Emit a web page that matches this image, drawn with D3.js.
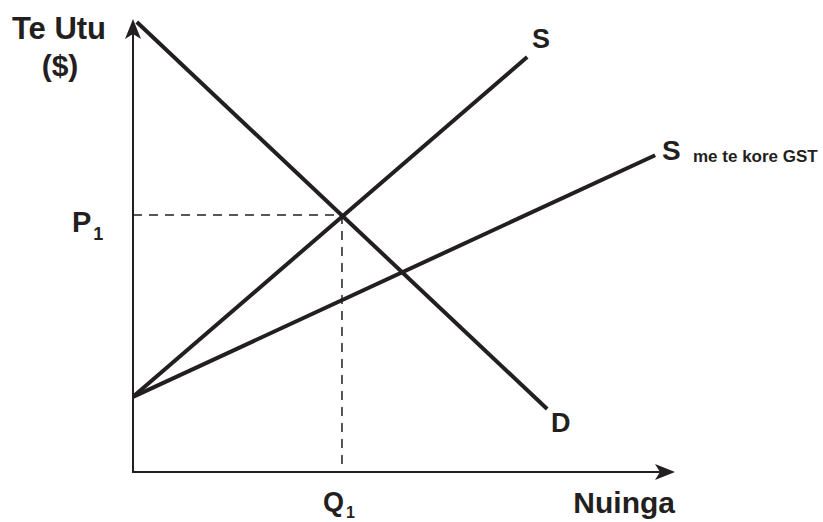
<!DOCTYPE html>
<html><head><meta charset="utf-8">
<script src="https://cdn.jsdelivr.net/npm/d3@7/dist/d3.min.js"></script>
<style>body{margin:0;background:#fff}svg{display:block}text{font-family:Arial,"Liberation Sans",Helvetica,sans-serif;font-weight:bold;fill:#231f20}</style>
</head><body><svg id="c" width="823" height="522"></svg>
<script>
// Curves as [quantity, price] endpoints (arbitrary units)
const supply = [[0, 1.67], [7.30, 9.22]];
const supplyGST = [[0, 1.67], [9.67, 7.04]];
const demand = [[0.07, 10.0], [7.67, 1.4]];
const equilibrium = [3.87, 5.71];
const yLabel = ["Te Utu", "($)"];
const xLabel = "Nuinga";

const svg = d3.select("#c");
const ink = "#231f20";
const x = d3.scaleLinear().domain([0, 10]).range([133, 673]);
const y = d3.scaleLinear().domain([0, 10]).range([472, 22]);

// axes
svg.append("line").attr("x1", x(0)).attr("y1", y(0)).attr("x2", x(0)).attr("y2", y(10) + 8)
  .attr("stroke", ink).attr("stroke-width", 2);
svg.append("line").attr("x1", x(0) - 1).attr("y1", y(0)).attr("x2", x(10) - 6).attr("y2", y(0))
  .attr("stroke", ink).attr("stroke-width", 2);
// arrowheads
const ax = x(0), ay = y(10) - 3;
svg.append("path").attr("d", `M${ax},${ay} L${ax + 8},${ay + 20} L${ax},${ay + 15} L${ax - 8},${ay + 20} Z`).attr("fill", ink);
const bx = x(10) + 2, by = y(0);
svg.append("path").attr("d", `M${bx},${by} L${bx - 20},${by - 8} L${bx - 15},${by} L${bx - 20},${by + 8} Z`).attr("fill", ink);

// dashed guides
svg.append("line").attr("x1", x(0)).attr("y1", y(equilibrium[1])).attr("x2", x(equilibrium[0])).attr("y2", y(equilibrium[1]))
  .attr("stroke", ink).attr("stroke-width", 1.5).attr("stroke-dasharray", "9,7");
svg.append("line").attr("x1", x(equilibrium[0])).attr("y1", y(equilibrium[1])).attr("x2", x(equilibrium[0])).attr("y2", y(0))
  .attr("stroke", ink).attr("stroke-width", 1.5).attr("stroke-dasharray", "9,7");

const line = d3.line().x(d => x(d[0])).y(d => y(d[1]));
[supply, supplyGST, demand].forEach(d => {
  svg.append("path").attr("d", line(d)).attr("fill", "none").attr("stroke", ink).attr("stroke-width", 4);
});

// labels
svg.append("text").attr("x", 59).attr("y", 39).attr("text-anchor", "middle").attr("font-size", 31).text(yLabel[0]);
svg.append("text").attr("x", 60).attr("y", 76).attr("text-anchor", "middle").attr("font-size", 30).text(yLabel[1]);
svg.append("text").attr("x", 675).attr("y", 513).attr("text-anchor", "end").attr("font-size", 30).text(xLabel);

svg.append("text").attr("x", 532).attr("y", 48).attr("font-size", 27).text("S");
svg.append("text").attr("x", 662).attr("y", 160).attr("font-size", 28).text("S");
svg.append("text").attr("x", 693).attr("y", 162).attr("font-size", 17).text("me te kore GST");
svg.append("text").attr("x", 551).attr("y", 432).attr("font-size", 27).text("D");

const p1 = svg.append("text").attr("x", 72).attr("y", 232).attr("font-size", 29);
p1.append("tspan").text("P");
p1.append("tspan").attr("font-size", 18).attr("dx", 2).attr("dy", 8).text("1");
const q1 = svg.append("text").attr("x", 323).attr("y", 511).attr("font-size", 27);
q1.append("tspan").text("Q");
q1.append("tspan").attr("font-size", 16).attr("dx", 2).attr("dy", 7).text("1");
</script></body></html>
